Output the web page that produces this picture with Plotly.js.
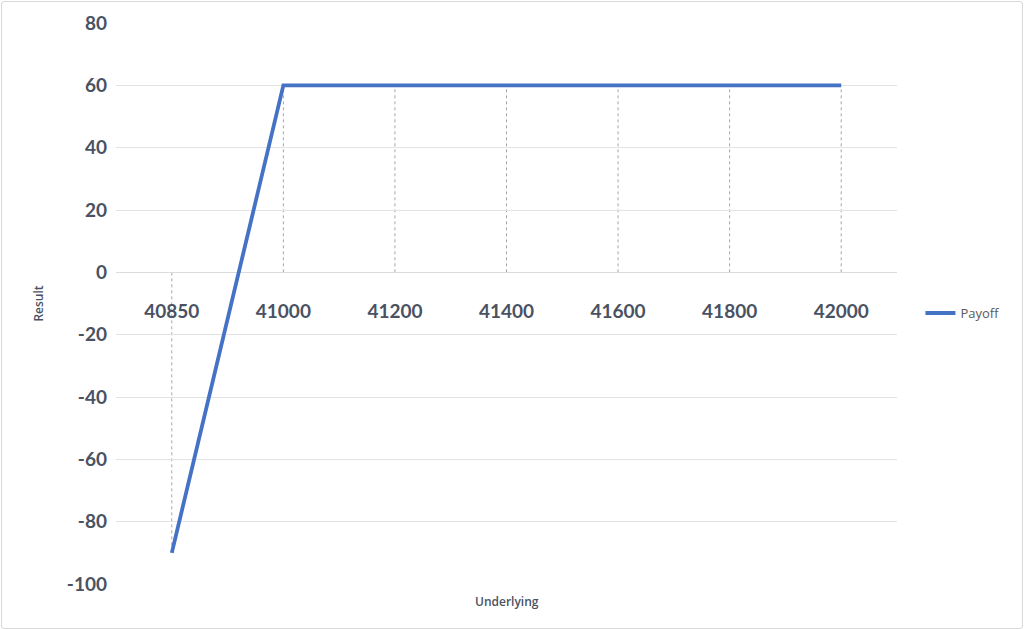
<!DOCTYPE html>
<html>
<head>
<meta charset="utf-8">
<script src="https://cdn.plot.ly/plotly-3.0.1.min.js"></script>
<style>
  html, body { margin: 0; padding: 0; background: #fff; }
  #frame { position: absolute; left: 1px; top: 1px; width: 1020px; height: 626px; border: 1px solid #d9d9d9; border-radius: 3px; }
  #chart { position: absolute; left: 0; top: 0; width: 1024px; height: 630px; }
</style>
</head>
<body>
<div id="frame"></div>
<div id="chart"></div>
<script>
const underlying = ['40850', '41000', '41200', '41400', '41600', '41800', '42000'];
const payoff = [-90, 60, 60, 60, 60, 60, 60];
const yTickVals = [-100, -80, -60, -40, -20, 0, 20, 40, 60, 80];
const yTickText = ['-100', '-80', '-60', '-40', '-20', '0', '20', '40', '60', '80'];
const seriesName = 'Payoff';
const xTitle = 'Underlying';
const yTitle = 'Result';

const textColor = '#4a5262';
const lineColor = '#4472C4';

const dropLines = underlying.map((u, i) => ({
  type: 'line', xref: 'x', yref: 'y',
  x0: i, x1: i, y0: 0, y1: payoff[i],
  line: { color: '#a6a6a6', width: 1, dash: 'dot' },
  layer: 'below'
}));

const trace = {
  x: underlying, y: payoff, type: 'scatter', mode: 'lines',
  name: seriesName,
  line: { color: lineColor, width: 3.8 },
  hoverinfo: 'x+y'
};

const layout = {
  width: 1024, height: 630,
  margin: { l: 116, r: 127, t: 23, b: 46 },
  paper_bgcolor: 'rgba(0,0,0,0)', plot_bgcolor: 'rgba(0,0,0,0)',
  font: { family: 'Lato, "Open Sans", sans-serif', color: textColor },
  showlegend: true,
  legend: { x: 1.03, xanchor: 'left', y: 0.483, yanchor: 'middle',
            font: { size: 13, color: '#595959', family: '"Open Sans", sans-serif' } },
  xaxis: {
    type: 'category', range: [-0.5, 6.5],
    anchor: 'free', position: 100 / 180,
    showgrid: false, zeroline: false, showline: false,
    ticks: '', ticklabelstandoff: 26,
    tickfont: { size: 19, color: textColor, family: 'Lato, sans-serif', weight: 'bold' }
  },
  yaxis: {
    range: [-100, 80], tickmode: 'array', tickvals: yTickVals, ticktext: yTickText,
    showgrid: true, gridcolor: '#e3e3e3', gridwidth: 1,
    zeroline: true, zerolinecolor: '#dcdcdc', zerolinewidth: 1,
    showline: false, ticks: '', ticklabelstandoff: 8,
    tickfont: { size: 19, color: textColor, family: 'Lato, sans-serif', weight: 'bold' },
    title: { text: yTitle, standoff: 20, font: { size: 12, color: textColor, family: '"Open Sans", sans-serif', weight: 600 } }
  },
  shapes: dropLines,
  annotations: [{
    text: xTitle, xref: 'paper', yref: 'paper', x: 0.5, y: -0.012,
    xanchor: 'center', yanchor: 'top', showarrow: false,
    font: { size: 12, color: textColor, family: '"Open Sans", sans-serif', weight: 600 }
  }]
};

Plotly.newPlot('chart', [trace], layout, { displayModeBar: false, staticPlot: true });
</script>
</body>
</html>
